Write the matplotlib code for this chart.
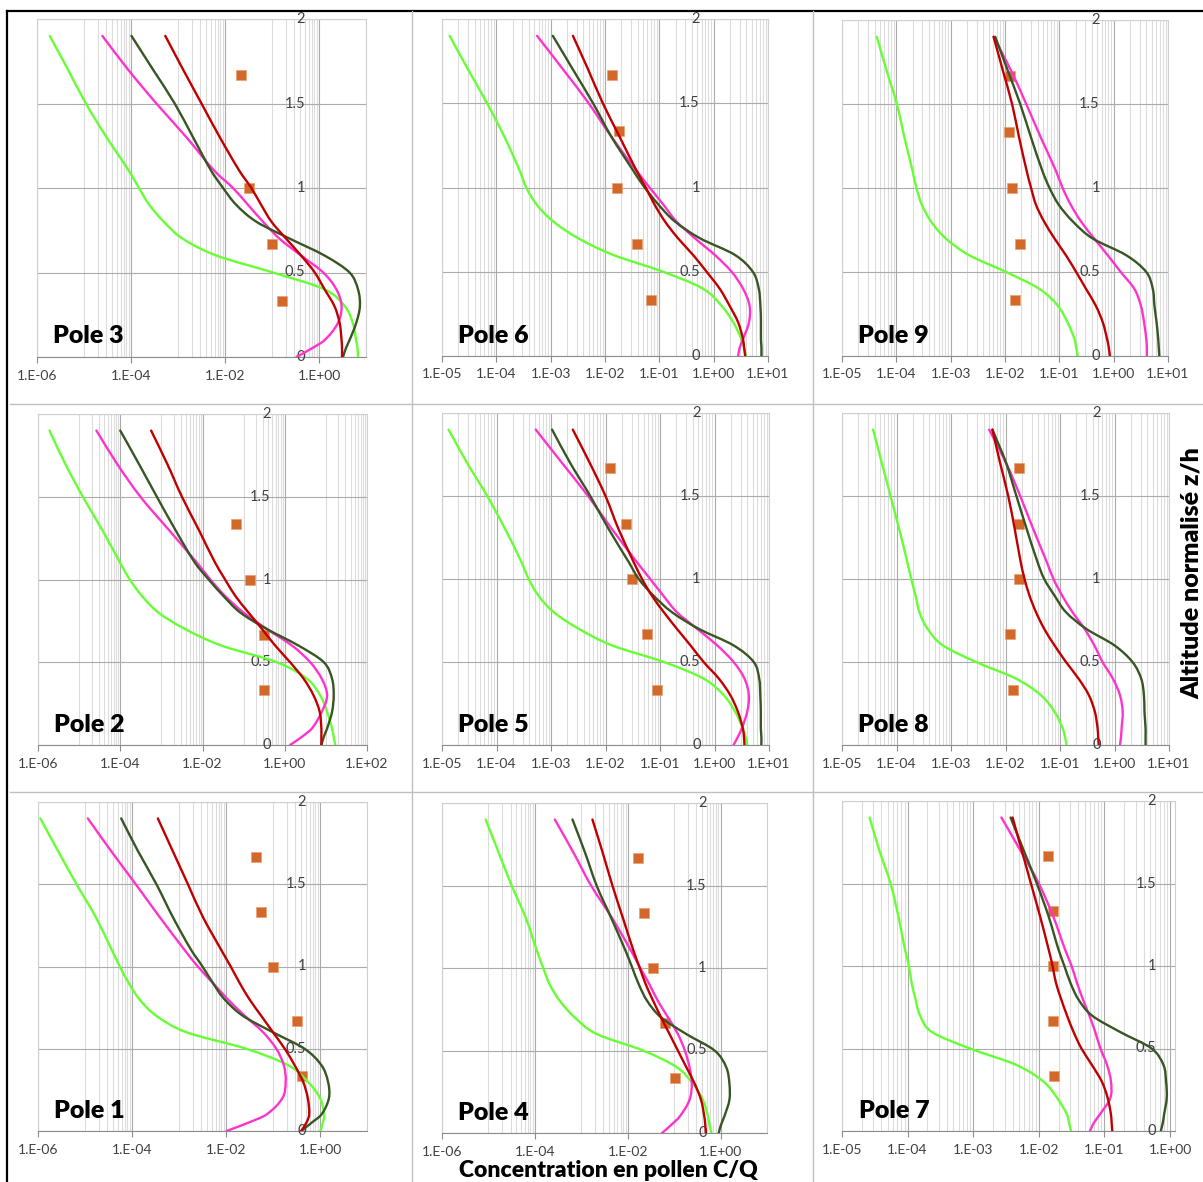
import numpy as np
import matplotlib.pyplot as plt
from matplotlib.lines import Line2D
from matplotlib.path import Path
from matplotlib.patches import PathPatch
from matplotlib.ticker import FixedLocator, NullFormatter

plt.rcParams['font.family'] = ['Lato', 'DejaVu Sans']

# altitude levels z/h at which the model curves were read
z = [1.9, 1.7, 1.5, 1.3, 1.1, 1.0, 0.9, 0.8, 0.7, 0.6, 0.5, 0.4, 0.3, 0.2, 0.1, 0.05, 0.0]
z_obs = [1.667, 1.333, 1.0, 0.667, 0.333]

# model curves, given as log10(C/Q) at each level of z
p3_green = [-5.73, -5.34, -4.96, -4.52, -4.04, -3.83, -3.61, -3.30, -2.90, -2.18, -0.98, 0.12, 0.55, 0.72, 0.79, 0.82, 0.83]
p3_pink = [-4.61, -4.06, -3.46, -2.82, -2.22, -1.83, -1.51, -1.19, -0.84, -0.38, 0.09, 0.37, 0.48, 0.40, 0.12, -0.16, -0.48]
p3_dkgreen = [-3.99, -3.53, -3.07, -2.68, -2.29, -2.04, -1.76, -1.33, -0.62, 0.12, 0.65, 0.83, 0.87, 0.79, 0.65, 0.57, 0.51]
p3_red = [-3.27, -2.89, -2.50, -2.11, -1.69, -1.44, -1.23, -1.01, -0.70, -0.38, -0.09, 0.12, 0.33, 0.44, 0.48, 0.49, 0.49]
p3_obs_c = [-1.67, -1.48, -1.01, -0.78]
p3_obs_z = [1.667, 1.0, 0.667, 0.333]

p6_green = [-4.86, -4.52, -4.17, -3.85, -3.57, -3.45, -3.26, -2.96, -2.50, -1.85, -0.93, -0.20, 0.14, 0.36, 0.51, 0.56, 0.59]
p6_pink = [-3.25, -2.77, -2.30, -1.88, -1.42, -1.18, -0.93, -0.69, -0.35, 0.02, 0.33, 0.54, 0.66, 0.65, 0.54, 0.48, 0.45]
p6_dkgreen = [-2.96, -2.59, -2.22, -1.88, -1.48, -1.27, -1.02, -0.72, -0.26, 0.39, 0.72, 0.83, 0.86, 0.87, 0.87, 0.88, 0.88]
p6_red = [-2.59, -2.31, -2.04, -1.73, -1.42, -1.25, -1.09, -0.90, -0.66, -0.38, -0.13, 0.11, 0.29, 0.45, 0.54, 0.56, 0.58]
p6_obs_c = [-1.87, -1.74, -1.78, -1.42, -1.15]

p9_green = [-4.36, -4.18, -3.99, -3.85, -3.70, -3.63, -3.53, -3.36, -3.09, -2.66, -1.98, -1.37, -1.03, -0.85, -0.72, -0.69, -0.66]
p9_pink = [-2.21, -1.89, -1.61, -1.34, -1.06, -0.94, -0.79, -0.60, -0.36, -0.11, 0.13, 0.38, 0.50, 0.56, 0.60, 0.61, 0.61]
p9_dkgreen = [-2.18, -1.95, -1.72, -1.52, -1.31, -1.18, -1.01, -0.75, -0.39, 0.23, 0.60, 0.72, 0.75, 0.79, 0.82, 0.83, 0.84]
p9_red = [-2.21, -2.04, -1.87, -1.74, -1.60, -1.52, -1.43, -1.28, -1.09, -0.88, -0.69, -0.51, -0.33, -0.20, -0.12, -0.09, -0.07]
p9_obs_c = [-1.91, -1.93, -1.88, -1.72, -1.81]

p2_green = [-5.72, -5.34, -4.91, -4.44, -4.00, -3.77, -3.47, -3.07, -2.42, -1.53, -0.19, 0.54, 0.86, 1.03, 1.15, 1.19, 1.23]
p2_pink = [-4.58, -4.08, -3.51, -2.82, -2.13, -1.81, -1.45, -1.00, -0.43, 0.18, 0.62, 0.90, 1.03, 0.90, 0.66, 0.42, 0.13]
p2_dkgreen = [-4.00, -3.55, -3.11, -2.66, -2.18, -1.85, -1.49, -1.08, -0.43, 0.34, 0.95, 1.15, 1.19, 1.15, 1.03, 0.95, 0.89]
p2_red = [-3.25, -2.86, -2.50, -2.09, -1.69, -1.45, -1.20, -0.88, -0.55, -0.23, 0.13, 0.46, 0.70, 0.85, 0.89, 0.89, 0.89]
p2_obs_c = [-1.19, -0.84, -0.50, -0.50]
p2_obs_z = [1.333, 1.0, 0.667, 0.333]

p5_green = [-4.88, -4.54, -4.17, -3.84, -3.54, -3.41, -3.23, -2.95, -2.49, -1.88, -0.93, -0.20, 0.17, 0.38, 0.52, 0.57, 0.60]
p5_pink = [-3.28, -2.80, -2.32, -1.88, -1.42, -1.18, -0.94, -0.69, -0.32, 0.05, 0.35, 0.55, 0.63, 0.60, 0.50, 0.43, 0.35]
p5_dkgreen = [-2.98, -2.65, -2.28, -1.94, -1.57, -1.39, -1.12, -0.78, -0.29, 0.35, 0.72, 0.82, 0.84, 0.85, 0.85, 0.86, 0.86]
p5_red = [-2.60, -2.29, -2.00, -1.76, -1.48, -1.33, -1.15, -0.93, -0.69, -0.44, -0.20, 0.08, 0.29, 0.43, 0.52, 0.54, 0.55]
p5_obs_c = [-1.91, -1.62, -1.51, -1.23, -1.06]

p8_green = [-4.43, -4.27, -4.11, -3.95, -3.80, -3.73, -3.65, -3.58, -3.43, -3.15, -2.54, -1.81, -1.35, -1.10, -0.95, -0.91, -0.88]
p8_pink = [-2.30, -1.99, -1.73, -1.49, -1.24, -1.12, -0.96, -0.77, -0.55, -0.37, -0.22, -0.03, 0.10, 0.15, 0.13, 0.12, 0.10]
p8_dkgreen = [-2.24, -1.99, -1.80, -1.61, -1.41, -1.29, -1.10, -0.89, -0.52, 0.00, 0.33, 0.49, 0.54, 0.55, 0.57, 0.57, 0.57]
p8_red = [-2.24, -2.10, -1.95, -1.83, -1.72, -1.65, -1.56, -1.44, -1.29, -1.10, -0.89, -0.66, -0.47, -0.36, -0.31, -0.30, -0.29]
p8_obs_c = [-1.75, -1.75, -1.76, -1.91, -1.86]

p1_green = [-5.95, -5.57, -5.18, -4.77, -4.43, -4.26, -4.07, -3.84, -3.48, -2.84, -1.57, -0.68, -0.26, 0.00, 0.09, 0.06, 0.01]
p1_pink = [-4.94, -4.44, -3.92, -3.41, -2.88, -2.60, -2.28, -1.96, -1.60, -1.21, -0.93, -0.77, -0.73, -0.80, -1.14, -1.53, -1.99]
p1_dkgreen = [-4.23, -3.87, -3.48, -3.13, -2.74, -2.50, -2.28, -2.03, -1.64, -1.00, -0.33, 0.03, 0.17, 0.19, 0.03, -0.18, -0.40]
p1_red = [-3.45, -3.13, -2.81, -2.49, -2.10, -1.90, -1.71, -1.50, -1.25, -1.00, -0.75, -0.54, -0.36, -0.26, -0.23, -0.29, -0.40]
p1_obs_c = [-1.37, -1.25, -1.00, -0.49, -0.38]

p4_green = [-5.06, -4.78, -4.50, -4.19, -3.95, -3.82, -3.68, -3.46, -3.14, -2.67, -1.67, -0.95, -0.60, -0.38, -0.27, -0.24, -0.20]
p4_pink = [-3.57, -3.17, -2.79, -2.33, -1.92, -1.73, -1.53, -1.35, -1.13, -0.92, -0.77, -0.67, -0.62, -0.67, -0.88, -1.06, -1.26]
p4_dkgreen = [-3.19, -2.92, -2.67, -2.35, -2.04, -1.90, -1.76, -1.58, -1.28, -0.74, -0.13, 0.12, 0.19, 0.19, 0.08, 0.01, -0.04]
p4_red = [-2.76, -2.54, -2.33, -2.10, -1.87, -1.74, -1.61, -1.45, -1.28, -1.10, -0.92, -0.74, -0.56, -0.42, -0.35, -0.33, -0.32]
p4_obs_c = [-1.77, -1.64, -1.45, -1.20, -0.98]

p7_green = [-4.58, -4.43, -4.26, -4.14, -4.04, -3.98, -3.94, -3.88, -3.81, -3.63, -3.05, -2.34, -1.93, -1.72, -1.57, -1.54, -1.51]
p7_pink = [-2.57, -2.28, -2.00, -1.78, -1.60, -1.50, -1.42, -1.33, -1.23, -1.14, -1.06, -0.96, -0.90, -0.91, -1.07, -1.16, -1.22]
p7_dkgreen = [-2.43, -2.23, -2.03, -1.85, -1.70, -1.61, -1.52, -1.40, -1.19, -0.76, -0.28, -0.10, -0.06, -0.05, -0.09, -0.11, -0.14]
p7_red = [-2.40, -2.26, -2.12, -1.98, -1.85, -1.79, -1.74, -1.66, -1.57, -1.47, -1.35, -1.19, -1.04, -0.95, -0.90, -0.89, -0.88]
p7_obs_c = [-1.86, -1.78, -1.78, -1.78, -1.77]

y_ticks = [0, 0.5, 1, 1.5, 2]
y_labels = ['0', '0.5', '1', '1.5', '2']

GREEN = '#66FF33'
PINK = '#FF33CC'
DKGREEN = '#375623'
RED = '#C00000'
ORANGE = '#D2692B'
TXT = '#404040'

W, H = 1203, 1182
fig = plt.figure(figsize=(W / 100, H / 100), dpi=100)


def smooth_path(xlog, zz):
    # excel-like "smoothed line": cubic hermite in (log10 x, z) through the read points
    x = np.asarray(xlog, float)
    t = np.asarray(zz, float)
    n = len(x)
    m = np.empty(n)
    m[0] = (x[1] - x[0]) / (t[1] - t[0])
    m[-1] = (x[-1] - x[-2]) / (t[-1] - t[-2])
    m[1:-1] = (x[2:] - x[:-2]) / (t[2:] - t[:-2])
    verts = [(x[0], t[0])]
    codes = [Path.MOVETO]
    for i in range(n - 1):
        h = t[i + 1] - t[i]
        verts += [(x[i] + m[i] * h / 3, t[i] + h / 3),
                  (x[i + 1] - m[i + 1] * h / 3, t[i + 1] - h / 3),
                  (x[i + 1], t[i + 1])]
        codes += [Path.CURVE4] * 3
    v = np.array(verts)
    v[:, 0] = 10.0 ** v[:, 0]
    return Path(v, codes)


def draw_pole(rect, name, curves, obs_c, obs_z, emin, emax, step):
    l, t, r, b = rect
    ax = fig.add_axes([l / W, 1 - b / H, (r - l) / W, (b - t) / H])
    ax.set_xscale('log')
    ax.set_xlim(10.0 ** emin, 10.0 ** emax)
    ax.set_ylim(0, 2)

    # excel style log grid: base 100 (step 2) or base 10 (step 1)
    majors = [e for e in range(int(np.floor(emin)), int(np.floor(emax)) + 1, step)]
    minors = []
    for e in majors:
        if step == 2:
            minors += [k * 10.0 ** (e + 1) for k in range(1, 10)]
        else:
            minors += [k * 10.0 ** e for k in range(2, 10)]
    ax.xaxis.set_major_locator(FixedLocator([10.0 ** e for e in majors]))
    ax.xaxis.set_minor_locator(FixedLocator(minors))
    ax.xaxis.set_minor_formatter(NullFormatter())
    ax.set_xticklabels(['1.E%+03d' % e for e in majors])
    ax.tick_params(axis='x', which='major', length=4, color='#8C8C8C', pad=5,
                   labelsize=10, labelcolor=TXT)
    ax.tick_params(axis='x', which='minor', length=0)
    ax.set_yticks(y_ticks)
    ax.tick_params(axis='y', length=0, labelleft=False)
    ax.grid(which='minor', axis='x', color='#DCDCDC', lw=0.8)
    ax.grid(which='major', axis='x', color='#ABABAB', lw=0.8)
    ax.grid(which='major', axis='y', color='#ABABAB', lw=0.8)
    ax.set_axisbelow(True)
    for s in ['top', 'right', 'left']:
        ax.spines[s].set_color('#D0D0D0')
        ax.spines[s].set_linewidth(0.8)
    ax.spines['bottom'].set_color('#8C8C8C')
    ax.spines['bottom'].set_linewidth(0.8)

    for v, lab in zip(y_ticks, y_labels):
        ax.annotate(lab, (1.0, v), xytext=(-10, 0), textcoords='offset points',
                    ha='right', va='center', fontsize=10.5, color=TXT)

    ax.plot(10.0 ** np.array(obs_c), obs_z, 's', color=ORANGE, ms=7.5,
            mec='#E8A070', mew=0.5, zorder=2, clip_on=False)
    for vals, col in zip(curves, [GREEN, PINK, DKGREEN, RED]):
        ax.add_patch(PathPatch(smooth_path(vals, z), fill=False, edgecolor=col,
                               lw=1.7, zorder=3, capstyle='round'))

    ax.text(0.05, 0.04, name, transform=ax.transAxes, fontsize=18,
            fontweight='heavy', ha='left', va='baseline')
    return ax


draw_pole((37, 19, 366, 357), 'Pole 3', [p3_green, p3_pink, p3_dkgreen, p3_red],
          p3_obs_c, p3_obs_z, -6, 1, 2)
draw_pole((442, 19, 768, 356), 'Pole 6', [p6_green, p6_pink, p6_dkgreen, p6_red],
          p6_obs_c, z_obs, -5, 1, 1)
draw_pole((842, 20, 1168, 356), 'Pole 9', [p9_green, p9_pink, p9_dkgreen, p9_red],
          p9_obs_c, z_obs, -5, 1, 1)
draw_pole((38, 414, 367, 745), 'Pole 2', [p2_green, p2_pink, p2_dkgreen, p2_red],
          p2_obs_c, p2_obs_z, -6, 2, 2)
draw_pole((442, 413, 769, 745), 'Pole 5', [p5_green, p5_pink, p5_dkgreen, p5_red],
          p5_obs_c, z_obs, -5, 1, 1)
draw_pole((842, 413, 1169, 745), 'Pole 8', [p8_green, p8_pink, p8_dkgreen, p8_red],
          p8_obs_c, z_obs, -5, 1, 1)
draw_pole((38, 802, 367, 1131), 'Pole 1', [p1_green, p1_pink, p1_dkgreen, p1_red],
          p1_obs_c, z_obs, -6, 1, 2)
draw_pole((442, 803, 767, 1133), 'Pole 4', [p4_green, p4_pink, p4_dkgreen, p4_red],
          p4_obs_c, z_obs, -6, 1, 2)
draw_pole((842, 801, 1175, 1131), 'Pole 7', [p7_green, p7_pink, p7_dkgreen, p7_red],
          p7_obs_c, z_obs, -5, 0.076, 1)


def fig_line(x0, y0, x1, y1, color, lw):
    fig.add_artist(Line2D([x0 / W, x1 / W], [1 - y0 / H, 1 - y1 / H],
                          transform=fig.transFigure, color=color, lw=lw))


# frame of the collage
fig_line(7, 11, W, 11, 'black', 1.6)
fig_line(7, 11, 7, H, 'black', 1.6)
fig_line(10, 404, W, 404, '#BFBFBF', 1.0)
fig_line(10, 792, W, 792, '#BFBFBF', 1.0)
fig_line(412, 11, 412, H, '#BFBFBF', 1.0)
fig_line(813, 11, 813, H, '#BFBFBF', 1.0)

fig.text(1192 / W, 1 - 573 / H, 'Altitude normalisé z/h', rotation=90,
         fontsize=18, fontweight='heavy', ha='center', va='center')
fig.text(608 / W, 0.001, 'Concentration en pollen C/Q',
         fontsize=16.5, fontweight='heavy', ha='center', va='bottom')

fig.savefig('out.png', dpi=100)
